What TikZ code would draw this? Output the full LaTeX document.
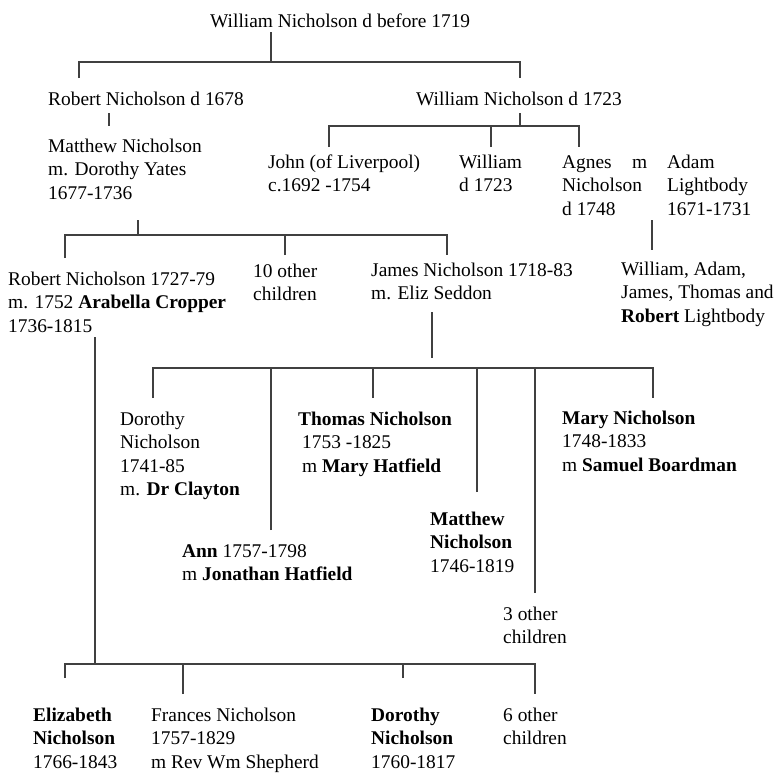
\documentclass[tikz,border=0pt]{standalone}
\usepackage{fontspec}
\setmainfont{Liberation Serif}
\usetikzlibrary{positioning}

\newcommand{\entry}[1]{\begin{tabular}[t]{@{}l@{}}#1\end{tabular}}

\begin{document}
\begin{tikzpicture}[x=1pt, y=-1pt,
  person/.style={anchor=base west, inner sep=0pt, font=\fontsize{19.4}{23.6}\selectfont},
  line/.style={draw=black!75, line width=1.1pt}]
\useasboundingbox (0,0) rectangle (774,772);
% people
\node[person] (top) at (210, 27) {William Nicholson d before 1719};
\node[person] (robA) at (48, 105) {Robert Nicholson d 1678};
\node[person] (wilB) at (416, 105) {William Nicholson d 1723};
\node[person] (matA) at (48, 152) {\entry{Matthew Nicholson\\m. Dorothy Yates\\1677-1736}};
\node[person] (john) at (268, 168) {\entry{John (of Liverpool)\\c.1692 -1754}};
\node[person] (wilC) at (459, 168) {\entry{William\\d 1723}};
\node[person] (agnes) at (562, 168) {\entry{Agnes\\Nicholson\\d 1748}};
\node[person] (marr) at (632, 168) {m};
\node[person] (adam) at (667, 168) {\entry{Adam\\Lightbody\\1671-1731}};
\node[person] (robB) at (8, 285) {\entry{Robert Nicholson 1727-79\\m. 1752 \textbf{Arabella Cropper}\\1736-1815}};
\node[person] (oth10) at (253, 277) {\entry{10 other\\children}};
\node[person] (james) at (371, 276) {\entry{James Nicholson 1718-83\\m. Eliz Seddon}};
\node[person] (lbody) at (621, 275) {\entry{William, Adam,\\James, Thomas and\\\textbf{Robert} Lightbody}};
\node[person] (doroA) at (120, 425) {\entry{Dorothy\\Nicholson\\1741-85\\m. \textbf{Dr Clayton}}};
\node[person] (thomas) at (298, 425) {\entry{\textbf{Thomas Nicholson}\\\hspace*{4pt}1753 -1825\\\hspace*{4pt}m \textbf{Mary Hatfield}}};
\node[person] (mary) at (562, 424) {\entry{\textbf{Mary Nicholson}\\1748-1833\\m \textbf{Samuel Boardman}}};
\node[person] (matB) at (430, 525) {\entry{\textbf{Matthew}\\\textbf{Nicholson}\\1746-1819}};
\node[person] (ann) at (182, 557) {\entry{\textbf{Ann} 1757-1798\\m \textbf{Jonathan Hatfield}}};
\node[person] (oth3) at (503, 620) {\entry{3 other\\children}};
\node[person] (eliz) at (33, 721) {\entry{\textbf{Elizabeth}\\\textbf{Nicholson}\\1766-1843}};
\node[person] (fran) at (151, 721) {\entry{Frances Nicholson\\1757-1829\\m Rev Wm Shepherd}};
\node[person] (doroB) at (371, 721) {\entry{\textbf{Dorothy}\\\textbf{Nicholson}\\1760-1817}};
\node[person] (oth6) at (503, 721) {\entry{6 other\\children}};
% William d before 1719
\coordinate (a0) at (271, 32); \coordinate (a1) at (271, 62);
\coordinate (a2) at (79, 78); \coordinate (a3) at (520, 78);
\draw[line] (a0) -- (a1);
\draw[line] (a2) |- (a1) -| (a3);
% Robert d 1678
\coordinate (b0) at (109, 113); \coordinate (b1) at (109, 126);
\draw[line] (b0) -- (b1);
% William d 1723
\coordinate (c0) at (520, 113); \coordinate (c1) at (520, 126);
\coordinate (c2) at (329, 147); \coordinate (c3) at (491, 147); \coordinate (c4) at (579, 147);
\draw[line] (c0) -- (c1);
\draw[line] (c2) |- (c1) -| (c4);
\draw[line] (c3) -- (c3 |- c1);
% Matthew and Dorothy Yates
\coordinate (d0) at (138, 220); \coordinate (d1) at (138, 235);
\coordinate (d2) at (65, 258); \coordinate (d3) at (285, 255); \coordinate (d4) at (447, 255);
\draw[line] (d0) -- (d1);
\draw[line] (d2) |- (d1) -| (d4);
\draw[line] (d3) -- (d3 |- d1);
% Agnes and Adam
\coordinate (e0) at (652, 220); \coordinate (e1) at (652, 250);
\draw[line] (e0) -- (e1);
% James and Eliz Seddon
\coordinate (f0) at (432, 312); \coordinate (f1) at (432, 358);
\coordinate (fb) at (432, 368);
\coordinate (f2) at (153, 398); \coordinate (f3) at (271, 530); \coordinate (f4) at (373, 398);
\coordinate (f5) at (477, 492); \coordinate (f6) at (535, 593); \coordinate (f7) at (653, 398);
\draw[line] (f0) -- (f1);
\draw[line] (f2) |- (fb) -| (f7);
\draw[line] (f3) -- (f3 |- fb);
\draw[line] (f4) -- (f4 |- fb);
\draw[line] (f5) -- (f5 |- fb);
\draw[line] (f6) -- (f6 |- fb);
% Robert and Arabella Cropper
\coordinate (h0) at (95, 337); \coordinate (h1) at (95, 664);
\coordinate (h2) at (65, 678); \coordinate (h3) at (183, 694);
\coordinate (h4) at (403, 678); \coordinate (h5) at (535, 694);
\draw[line] (h0) -- (h1);
\draw[line] (h2) |- (h1) -| (h5);
\draw[line] (h3) -- (h3 |- h1);
\draw[line] (h4) -- (h4 |- h1);
\end{tikzpicture}
\end{document}
